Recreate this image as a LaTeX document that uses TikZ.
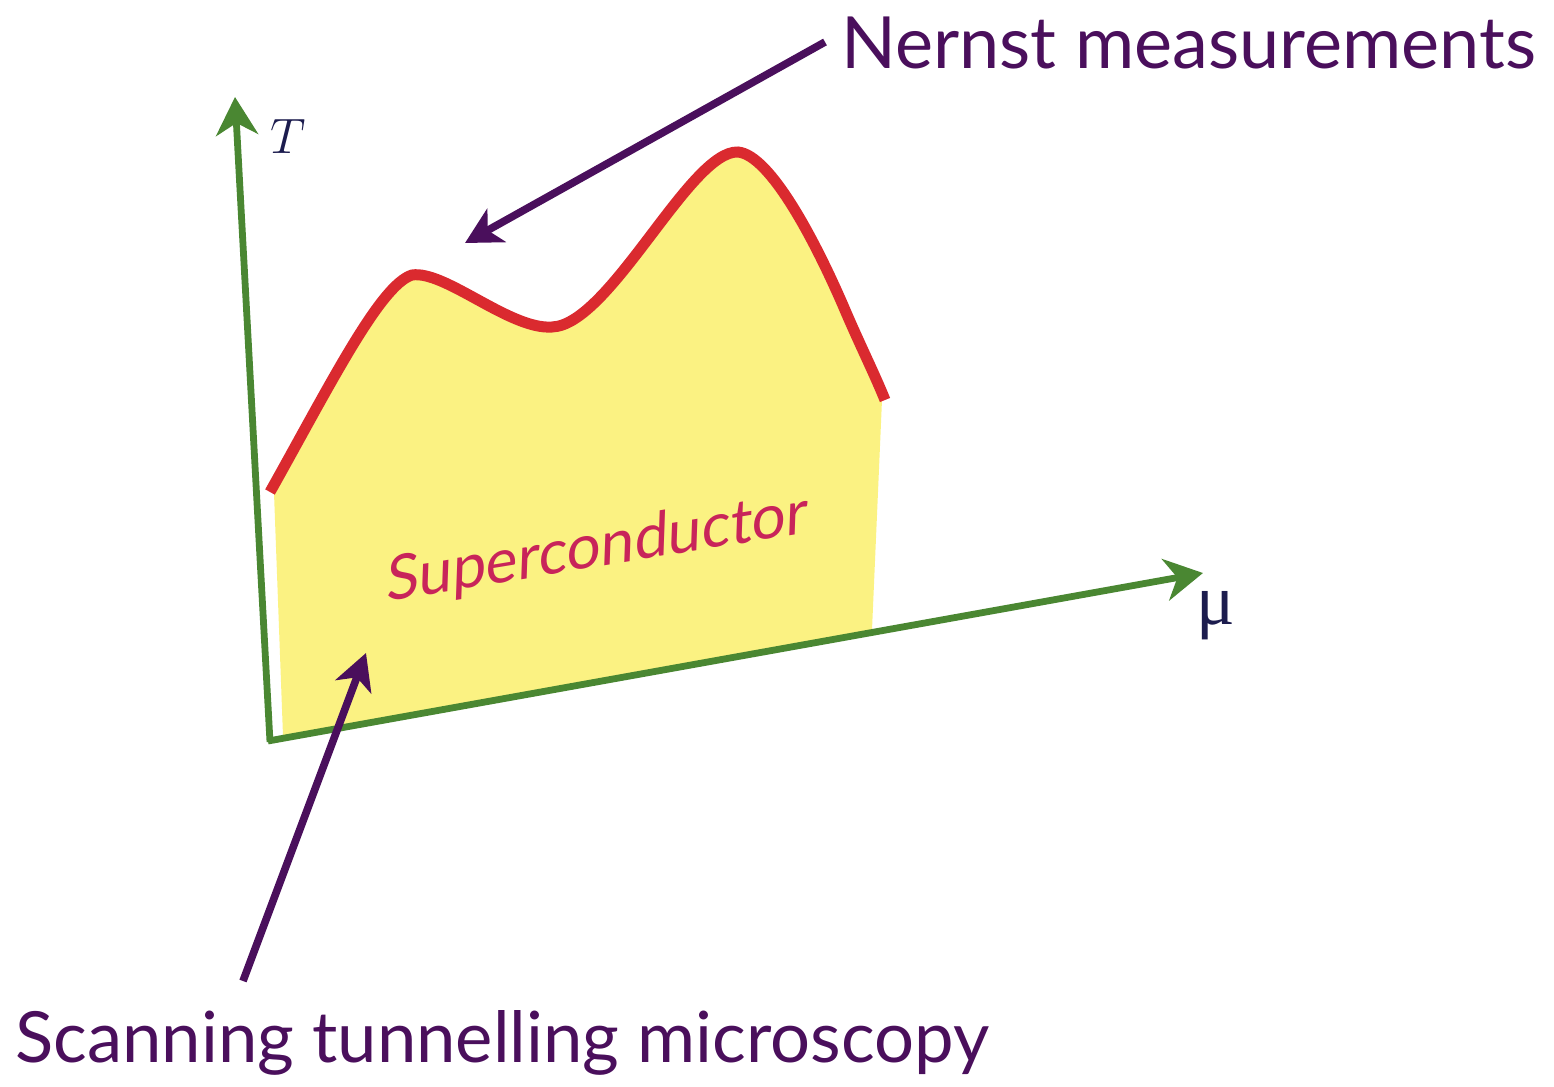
\documentclass[tikz,border=0pt]{standalone}
\usepackage{fontspec}
\setmainfont{Lato}
\newfontfamily\slantfont[FakeSlant=0.2]{Lato}
\newfontfamily\greekserif{Liberation Serif}
\usetikzlibrary{arrows.meta}
\definecolor{axisgreen}{HTML}{4A8732}
\definecolor{curvered}{HTML}{DA2A2F}
\definecolor{scyellow}{HTML}{FBF282}
\definecolor{labelpurple}{HTML}{4A0F5C}
\definecolor{scpink}{HTML}{C8245A}
\definecolor{axisnavy}{HTML}{1C1C4E}
\begin{document}
\begin{tikzpicture}[x=0.5pt,y=-0.5pt,
  axisline/.style={draw=axisgreen, line width=3.4pt, -{Stealth[length=19pt,width=21pt,inset=6pt]}},
  pointer/.style={draw=labelpurple, line width=3.8pt, -{Stealth[length=18pt,width=19pt,inset=5pt]}},
  biglabel/.style={text=labelpurple, inner sep=0pt},
  axislabel/.style={text=axisnavy, inner sep=0pt}]
\useasboundingbox (0,0) rectangle (1554,1087);
% region
\fill[scyellow] (283,736) -- (274,493)
  .. controls (330,385) and (380,285) .. (412,275)
  .. controls (445,270) and (510,330) .. (552,327)
  .. controls (610,325) and (690,150) .. (738,152)
  .. controls (770,155) and (815,240) .. (845,310)
  .. controls (860,345) and (875,375) .. (882,400)
  -- (872,630) -- cycle;
% boundary curve
\draw[curvered, line width=5.5pt] (270,492)
  .. controls (330,385) and (380,285) .. (412,275)
  .. controls (445,270) and (510,330) .. (552,327)
  .. controls (610,325) and (690,150) .. (738,152)
  .. controls (770,155) and (815,240) .. (845,310)
  .. controls (860,345) and (875,375) .. (885,400);
% axes
\coordinate (origin) at (270,742);
\coordinate (ttip) at (235,97);
\coordinate (muorigin) at (268,741);
\coordinate (mutip) at (1203,573);
\draw[axisline] (origin) -- (ttip);
\draw[axisline] (muorigin) -- (mutip);
\node[axislabel, font=\fontsize{34}{38}\selectfont] (tlabel) at (288,136) {$T$};
\node[axislabel, font=\greekserif\fontsize{36}{40}\selectfont] (mulabel) at (1216,616) {μ};
% region label
\node[text=scpink, font=\slantfont\fontsize{30.5}{34}\selectfont, rotate=9.3, anchor=base, inner sep=0pt] (sclabel) at (597,567) {Superconductor};
% labels
\node[biglabel, font=\fontsize{36}{40}\selectfont, anchor=base west] (nernst) at (841,68) {Nernst measurements};
\node[biglabel, font=\fontsize{35.3}{40}\selectfont, anchor=base west] (stm) at (15,1062) {Scanning tunnelling microscopy};
\coordinate (nernststart) at (825,42);
\coordinate (nernsttip) at (465,243);
\coordinate (stmstart) at (243,981);
\coordinate (stmtip) at (366,653);
\draw[pointer] (nernststart) -- (nernsttip);
\draw[pointer] (stmstart) -- (stmtip);
\end{tikzpicture}
\end{document}
